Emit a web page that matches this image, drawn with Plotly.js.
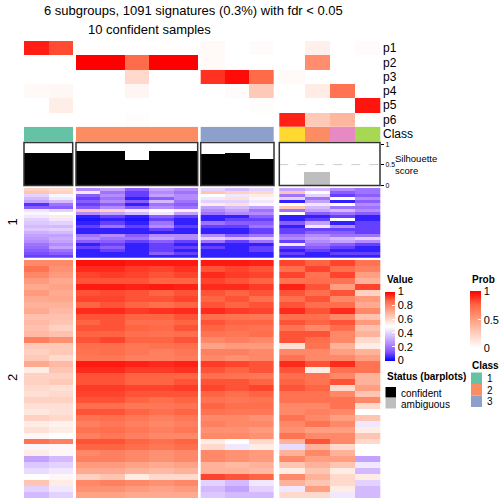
<!DOCTYPE html>
<html>
<head>
<meta charset="utf-8">
<script src="https://cdn.plot.ly/plotly-3.0.1.min.js"></script>
<style>html,body{margin:0;padding:0;background:#fff;}#chart{width:504px;height:504px;}</style>
</head>
<body>
<div id="chart"></div>
<script>
// ---------------- DATA ----------------
const titleLine1 = "6 subgroups, 1091 signatures (0.3%) with fdr < 0.05";
const titleLine2 = "10 confident samples";
const probRows = ["p1", "p2", "p3", "p4", "p5", "p6"];
const sampleGroup = [1, 1, 2, 2, 2, 2, 2, 3, 3, 3, 4, 4, 4, 4];
const prob = [
  [0.93, 0.82, 0, 0, 0, 0, 0, 0.03, 0, 0.02, 0, 0.08, 0, 0.02],
  [0, 0, 1, 1, 0.73, 1, 1, 0.03, 0, 0, 0, 0.58, 0, 0],
  [0, 0, 0, 0, 0.2, 0, 0, 0.88, 0.97, 0.74, 0.03, 0, 0, 0],
  [0.03, 0.04, 0, 0, 0.05, 0, 0, 0, 0.02, 0.28, 0, 0.1, 0.7, 0],
  [0, 0.09, 0, 0, 0, 0, 0, 0, 0, 0.01, 0, 0, 0, 0.95],
  [0, 0, 0, 0, 0.01, 0, 0, 0, 0, 0, 0.92, 0.28, 0.38, 0]
];
const classes = [1, 1, 2, 2, 2, 2, 2, 3, 3, 3, 6, 2, 4, 5];
const classColors = ["#66C2A5", "#FC8D62", "#8DA0CB", "#E78AC3", "#A6D854", "#FFD92F"];
const silhouette = [0.79, 0.79, 0.83, 0.83, 0.61, 0.83, 0.83, 0.76, 0.78, 0.64, 0, 0.31, 0, 0];
const confident = [true, true, true, true, true, true, true, true, true, true, false, false, false, false];
const rowSliceLabels = ["1", "2"];
const valueTicks = [0, 0.2, 0.4, 0.6, 0.8, 1];
const probTicks = [0, 0.5, 1];
const silTicks = [0, 0.5, 1];
const legendClasses = [1, 2, 3];
const statusLabels = ["confident", "ambiguous"];

const slice1 = [
  [0.62,0.60, 0.25,0.30,0.15,0.30,0.25, 0.40,0.35,0.40, 0.30,0.35,0.25,0.20],
  [0.65,0.62, 0.45,0.20,0.10,0.25,0.20, 0.65,0.62,0.60, 0.65,0.50,0.15,0.20],
  [0.40,0.48, 0.15,0.25,0.10,0.30,0.25, 0.50,0.45,0.55, 0.20,0.40,0.10,0.15],
  [0.35,0.45, 0.10,0.20,0.05,0.15,0.25, 0.45,0.58,0.48, 0.40,0.20,0.50,0.25],
  [0.30,0.35, 0.15,0.25,0.15,0.35,0.20, 0.40,0.40,0.45, 0.05,0.30,0.05,0.15],
  [0.08,0.20, 0.10,0.15,0.05,0.20,0.15, 0.55,0.58,0.52, 0.50,0.45,0.50,0.25],
  [0.15,0.15, 0.15,0.25,0.15,0.25,0.20, 0.30,0.35,0.30, 0.65,0.35,0.20,0.20],
  [0.45,0.40, 0.65,0.62,0.45,0.50,0.55, 0.25,0.30,0.20, 0.20,0.30,0.35,0.25],
  [0.48,0.50, 0.25,0.30,0.35,0.45,0.30, 0.20,0.25,0.25, 0.50,0.15,0.20,0.15],
  [0.45,0.55, 0.05,0.10,0.05,0.15,0.10, 0.05,0.05,0.15, 0.05,0.05,0.10,0.05],
  [0.40,0.45, 0.03,0.05,0.03,0.10,0.05, 0.05,0.10,0.10, 0.05,0.10,0.50,0.05],
  [0.38,0.40, 0.05,0.10,0.05,0.20,0.05, 0.20,0.15,0.15, 0.15,0.30,0.05,0.10],
  [0.35,0.35, 0.10,0.20,0.10,0.25,0.10, 0.10,0.10,0.20, 0.05,0.45,0.25,0.10],
  [0.38,0.40, 0.05,0.05,0.05,0.10,0.05, 0.05,0.05,0.10, 0.10,0.10,0.10,0.10],
  [0.33,0.35, 0.05,0.05,0.05,0.05,0.05, 0.05,0.05,0.10, 0.10,0.15,0.15,0.10],
  [0.30,0.30, 0.20,0.25,0.15,0.25,0.25, 0.25,0.15,0.20, 0.20,0.25,0.20,0.20],
  [0.28,0.32, 0.25,0.20,0.20,0.30,0.25, 0.40,0.35,0.38, 0.25,0.30,0.35,0.40],
  [0.25,0.30, 0.15,0.15,0.10,0.15,0.10, 0.20,0.10,0.20, 0.10,0.25,0.30,0.25],
  [0.20,0.25, 0.05,0.10,0.05,0.10,0.05, 0.05,0.05,0.05, 0.45,0.20,0.15,0.10],
  [0.18,0.30, 0.10,0.15,0.05,0.10,0.10, 0.10,0.05,0.10, 0.10,0.15,0.10,0.05],
  [0.15,0.20, 0.05,0.10,0.05,0.10,0.05, 0.05,0.05,0.10, 0.05,0.10,0.05,0.05],
  [0.12,0.15, 0.05,0.05,0.05,0.15,0.10, 0.05,0.05,0.05, 0.10,0.05,0.10,0.10],
  [0.10,0.10, 0.05,0.05,0.05,0.05,0.05, 0.05,0.05,0.05, 0.05,0.05,0.05,0.05]
];

const slice2 = [
  [0.80,0.80, 0.98,0.98,0.97,0.97,0.97, 0.97,0.97,0.96, 0.92,0.88,0.92,0.85],
  [0.85,0.78, 0.95,0.95,0.93,0.92,0.94, 0.90,0.92,0.90, 0.86,0.92,0.86,0.82],
  [0.80,0.76, 0.92,0.93,0.92,0.90,0.92, 0.95,0.93,0.92, 0.92,0.85,0.92,0.75],
  [0.76,0.72, 0.90,0.90,0.90,0.88,0.88, 0.92,0.90,0.88, 0.85,0.86,0.85,0.70],
  [0.72,0.74, 0.97,0.97,0.96,0.97,0.96, 0.95,0.95,0.93, 0.96,0.90,0.75,0.92],
  [0.76,0.72, 0.90,0.91,0.90,0.88,0.90, 0.90,0.88,0.90, 0.90,0.86,0.90,0.62],
  [0.72,0.73, 0.92,0.92,0.90,0.90,0.92, 0.88,0.90,0.86, 0.86,0.90,0.80,0.76],
  [0.70,0.70, 0.88,0.90,0.88,0.86,0.88, 0.90,0.88,0.90, 0.90,0.86,0.86,0.72],
  [0.72,0.68, 0.95,0.95,0.93,0.94,0.95, 0.95,0.93,0.92, 0.95,0.90,0.95,0.80],
  [0.66,0.66, 0.90,0.90,0.88,0.88,0.90, 0.86,0.85,0.84, 0.86,0.86,0.80,0.66],
  [0.68,0.65, 0.88,0.90,0.86,0.86,0.88, 0.90,0.88,0.88, 0.90,0.88,0.90,0.76],
  [0.66,0.62, 0.90,0.90,0.88,0.87,0.90, 0.88,0.86,0.85, 0.85,0.80,0.86,0.66],
  [0.68,0.66, 0.88,0.88,0.86,0.85,0.86, 0.85,0.84,0.86, 0.90,0.90,0.80,0.70],
  [0.82,0.78, 0.90,0.92,0.88,0.88,0.90, 0.80,0.82,0.80, 0.90,0.86,0.80,0.60],
  [0.64,0.64, 0.86,0.86,0.84,0.85,0.86, 0.74,0.76,0.76, 0.58,0.85,0.70,0.55],
  [0.62,0.64, 0.85,0.86,0.84,0.82,0.84, 0.82,0.82,0.80, 0.80,0.80,0.75,0.70],
  [0.64,0.60, 0.84,0.84,0.82,0.82,0.83, 0.80,0.78,0.80, 0.85,0.80,0.80,0.75],
  [0.72,0.68, 0.97,0.97,0.96,0.95,0.96, 0.93,0.92,0.90, 0.95,0.90,0.95,0.85],
  [0.55,0.65, 0.95,0.95,0.93,0.93,0.94, 0.90,0.88,0.90, 0.90,0.55,0.85,0.85],
  [0.62,0.62, 0.90,0.90,0.88,0.88,0.88, 0.86,0.85,0.84, 0.86,0.85,0.80,0.70],
  [0.62,0.64, 0.90,0.90,0.88,0.88,0.90, 0.90,0.90,0.88, 0.88,0.85,0.90,0.70],
  [0.60,0.58, 0.93,0.93,0.92,0.92,0.93, 0.92,0.90,0.92, 0.90,0.88,0.60,0.75],
  [0.58,0.60, 0.92,0.92,0.90,0.90,0.90, 0.88,0.86,0.88, 0.85,0.85,0.80,0.65],
  [0.62,0.62, 0.90,0.90,0.88,0.86,0.88, 0.85,0.84,0.85, 0.85,0.85,0.85,0.80],
  [0.58,0.58, 0.86,0.86,0.84,0.84,0.85, 0.88,0.86,0.86, 0.80,0.80,0.85,0.60],
  [0.56,0.58, 0.90,0.90,0.88,0.86,0.88, 0.85,0.84,0.84, 0.80,0.82,0.80,0.50],
  [0.62,0.60, 0.85,0.86,0.84,0.82,0.84, 0.80,0.80,0.78, 0.85,0.80,0.75,0.65],
  [0.55,0.53, 0.82,0.84,0.82,0.80,0.82, 0.82,0.80,0.80, 0.80,0.85,0.80,0.45],
  [0.58,0.55, 0.85,0.86,0.84,0.82,0.84, 0.78,0.78,0.76, 0.78,0.75,0.75,0.55],
  [0.52,0.50, 0.82,0.84,0.82,0.80,0.80, 0.80,0.80,0.78, 0.85,0.80,0.80,0.65],
  [0.85,0.82, 0.90,0.90,0.88,0.86,0.88, 0.55,0.50,0.60, 0.70,0.90,0.80,0.60],
  [0.48,0.52, 0.88,0.88,0.86,0.84,0.86, 0.60,0.45,0.55, 0.42,0.70,0.60,0.50],
  [0.55,0.52, 0.80,0.82,0.80,0.78,0.80, 0.80,0.78,0.76, 0.70,0.80,0.70,0.50],
  [0.30,0.35, 0.82,0.82,0.80,0.78,0.80, 0.80,0.78,0.76, 0.80,0.75,0.75,0.30],
  [0.38,0.40, 0.76,0.76,0.74,0.72,0.74, 0.70,0.68,0.70, 0.65,0.70,0.65,0.45],
  [0.42,0.45, 0.72,0.72,0.70,0.68,0.70, 0.70,0.70,0.68, 0.55,0.65,0.55,0.35],
  [0.50,0.52, 0.62,0.65,0.55,0.60,0.60, 0.92,0.90,0.88, 0.80,0.70,0.60,0.55],
  [0.65,0.55, 0.80,0.82,0.80,0.78,0.80, 0.40,0.35,0.45, 0.70,0.65,0.60,0.40],
  [0.40,0.45, 0.78,0.78,0.76,0.74,0.76, 0.35,0.30,0.40, 0.45,0.75,0.55,0.35],
  [0.35,0.40, 0.74,0.74,0.72,0.72,0.72, 0.38,0.35,0.35, 0.60,0.60,0.45,0.35]
];

// ---------------- LAYOUT CONSTANTS (pixels) ----------------
const W = 504;
const FONT = "Liberation Sans, Arial, Helvetica, sans-serif";
const groupPx = [[24, 72.7], [76, 197.7], [200.7, 274], [279.3, 380]];
const probPx = [41, 126.7], classPx = [126.7, 141.7], silPx = [142.5, 185.5];
const s1Px = [188, 257.7], s2Px = [260, 498.3];
const P = v => 1 - v / W;
const dom = a => [P(a[1]), P(a[0])];

const valueScale = [[0, "#0000FF"], [0.125, "#7E51FF"], [0.25, "#B38BFF"], [0.375, "#DCC5FF"], [0.5, "#FFFFFF"],
  [0.625, "#FFCFBF"], [0.75, "#FF9E81"], [0.875, "#FF6846"], [1, "#FF0000"]];
const probScale = [[0, "#FFFFFF"], [0.25, "#FFCFBF"], [0.5, "#FF9E81"], [0.75, "#FF6846"], [1, "#FF0000"]];
const nCls = classColors.length;
const classScale = [];
classColors.forEach((c, k) => { classScale.push([k / nCls, c]); classScale.push([(k + 1) / nCls, c]); });

// group column indices
const groupIds = [...new Set(sampleGroup)];
const groupIdx = groupIds.map(g => sampleGroup.map((v, i) => v === g ? i : -1).filter(i => i >= 0));
const colCenter = [], colWidth = [];
const groupEdges = groupIdx.map((idx, gi) => {
  const [x0, x1] = groupPx[gi]; const w = (x1 - x0) / idx.length;
  idx.forEach((i, k) => { colCenter[i] = x0 + (k + 0.5) * w; colWidth[i] = w; });
  return idx.map((_, k) => x0 + k * w).concat([x1]);
});

const traces = [];
groupIdx.forEach((idx, gi) => {
  const pick = rows => rows.map(r => idx.map(i => r[i]));
  traces.push({
    type: "heatmap", xaxis: "x", yaxis: "y", x: groupEdges[gi], y: probRows, z: pick(prob),
    zmin: 0, zmax: 1, colorscale: probScale, hoverinfo: "skip", showscale: gi === 0,
    colorbar: {x: 470 / W, xanchor: "left", y: P(319.8), yanchor: "middle", len: 57, lenmode: "pixels",
      thickness: 11, thicknessmode: "pixels", ypad: 0, xpad: 0, outlinewidth: 0,
      tickvals: probTicks, ticktext: probTicks.map(String), ticks: "inside", ticklen: 3, tickcolor: "#fff",
      tickfont: {family: FONT, size: 11, color: "#000"}}
  });
  traces.push({
    type: "heatmap", xaxis: "x", yaxis: "y2", x: groupEdges[gi], y: ["Class"], z: [idx.map(i => classes[i])],
    zmin: 0.5, zmax: nCls + 0.5, colorscale: classScale, showscale: false, hoverinfo: "skip"
  });
  traces.push({
    type: "heatmap", xaxis: "x", yaxis: "y4", x: groupEdges[gi], y: slice1.map((_, r) => r), z: pick(slice1),
    zmin: 0, zmax: 1, colorscale: valueScale, hoverinfo: "skip", showscale: gi === 0,
    colorbar: {x: 385 / W, xanchor: "left", y: P(326), yanchor: "middle", len: 69, lenmode: "pixels",
      thickness: 10, thicknessmode: "pixels", ypad: 0, xpad: 0, outlinewidth: 0,
      tickvals: valueTicks, ticktext: valueTicks.map(String), ticks: "inside", ticklen: 3, tickcolor: "#fff",
      tickfont: {family: FONT, size: 11, color: "#000"}}
  });
  traces.push({
    type: "heatmap", xaxis: "x", yaxis: "y5", x: groupEdges[gi], y: slice2.map((_, r) => r), z: pick(slice2),
    zmin: 0, zmax: 1, colorscale: valueScale, showscale: false, hoverinfo: "skip"
  });
});
traces.push({
  type: "bar", xaxis: "x", yaxis: "y3", x: colCenter, y: silhouette, width: colWidth,
  marker: {color: confident.map(c => c ? "#000000" : "#BEBEBE"), line: {width: 0}}, hoverinfo: "skip"
});

const shapes = [];
groupPx.forEach(([x0, x1]) => {
  shapes.push({type: "line", xref: "x", yref: "y3", x0: x0, x1: x1, y0: 0.5, y1: 0.5,
    line: {color: "#CCCCCC", width: 1, dash: "dash"}, layer: "below"});
  shapes.push({type: "rect", xref: "x", yref: "y3 domain", x0: x0, x1: x1, y0: 0, y1: 1,
    line: {color: "#333333", width: 1.5}, fillcolor: "rgba(0,0,0,0)", layer: "above"});
});
// legend keys
legendClasses.forEach((c, k) => {
  shapes.push({type: "rect", xref: "paper", yref: "paper", x0: 471 / W, x1: 482 / W,
    y0: P(384 + 11.5 * k), y1: P(372.5 + 11.5 * k), fillcolor: classColors[c - 1], line: {width: 0}});
});
statusLabels.forEach((s, k) => {
  shapes.push({type: "rect", xref: "paper", yref: "paper", x0: 385.5 / W, x1: 396 / W,
    y0: P(397.5 + 11 * k), y1: P(387 + 11 * k), fillcolor: k === 0 ? "#000000" : "#BEBEBE", line: {width: 0}});
});

const ann = (text, x, y, size, opts) => Object.assign({text: text, xref: "paper", yref: "paper",
  x: x / W, y: P(y), showarrow: false, xanchor: "left", yanchor: "middle",
  font: {family: FONT, size: size, color: "#000"}}, opts || {});
const annotations = [
  ann(titleLine1, 193, 10, 13, {xanchor: "center"}),
  ann(titleLine2, 149, 29, 13, {xanchor: "center"}),
  ann(rowSliceLabels[0], 12, 222.5, 13, {xanchor: "center", textangle: -90}),
  ann(rowSliceLabels[1], 12, 378, 13, {xanchor: "center", textangle: -90}),
  ann("Silhouette", 393, 158, 9.5),
  ann("score", 393, 170, 9.5),
  ann("<b>Value</b>", 384.5, 279.5, 10),
  ann("<b>Prob</b>", 469.5, 279.5, 10),
  ann("<b>Class</b>", 469.5, 365, 10),
  ann("<b>Status (barplots)</b>", 384.5, 376, 10),
  ann(statusLabels[0], 399, 393, 10),
  ann(statusLabels[1], 399, 404, 10)
];
legendClasses.forEach((c, k) => annotations.push(ann(String(c), 485, 378.5 + 11.5 * k, 10)));

const noAx = {showgrid: false, zeroline: false, showline: false, showticklabels: false, ticks: ""};
const layout = {
  width: W, height: W, margin: {l: 0, r: 0, t: 0, b: 0, pad: 0},
  paper_bgcolor: "#fff", plot_bgcolor: "rgba(0,0,0,0)", showlegend: false,
  font: {family: FONT, color: "#000"},
  xaxis: Object.assign({range: [0, W], domain: [0, 1], fixedrange: true}, noAx),
  yaxis: {domain: dom(probPx), type: "category", categoryarray: probRows, autorange: "reversed",
    anchor: "free", position: 380 / W, side: "right", showgrid: false, zeroline: false, showline: false,
    ticks: "", ticklabelstandoff: 2, tickfont: {family: FONT, size: 12, color: "#000"}},
  yaxis2: {domain: dom(classPx), type: "category", anchor: "free", position: 380 / W, side: "right",
    showgrid: false, zeroline: false, showline: false, ticks: "", ticklabelstandoff: 2,
    tickfont: {family: FONT, size: 12, color: "#000"}},
  yaxis3: {domain: dom(silPx), range: [-0.01, 1.04], anchor: "free", position: 380 / W, side: "right",
    showgrid: false, zeroline: false, showline: false, ticks: "outside", ticklen: 3, tickwidth: 1, tickcolor: "#000",
    tickvals: silTicks, ticktext: silTicks.map(String), tickfont: {family: FONT, size: 7, color: "#000"}},
  yaxis4: Object.assign({domain: dom(s1Px), range: [slice1.length - 0.5, -0.5], anchor: "x"}, noAx),
  yaxis5: Object.assign({domain: dom(s2Px), range: [slice2.length - 0.5, -0.5], anchor: "x"}, noAx),
  bargap: 0,
  shapes: shapes,
  annotations: annotations
};
Plotly.newPlot("chart", traces, layout, {staticPlot: true, displayModeBar: false});
</script>
</body>
</html>
